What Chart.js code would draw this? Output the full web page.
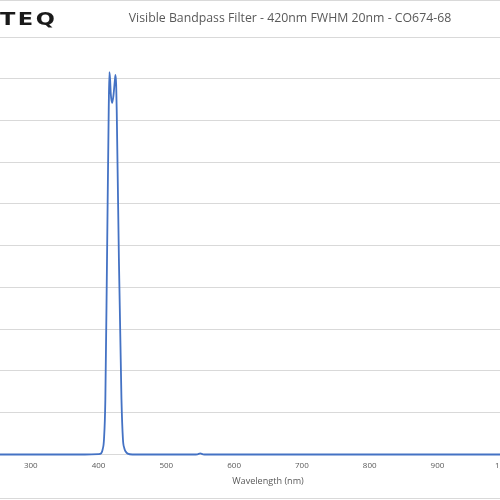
<!DOCTYPE html>
<html>
<head>
<meta charset="utf-8">
<script src="https://cdn.jsdelivr.net/npm/chart.js@4/dist/chart.umd.min.js"></script>
<style>
  html, body { margin: 0; padding: 0; background: #fff; overflow: hidden; }
  #wrap { position: absolute; left: -67px; top: 0; width: 714px; height: 500px; }
</style>
</head>
<body>
<div id="wrap"><canvas id="filter-chart" width="714" height="500"></canvas></div>
<script>
const chartTitle = "Visible Bandpass Filter - 420nm FWHM 20nm - CO674-68";
const xTitle = "Wavelength (nm)";
const xTicks = [200, 300, 400, 500, 600, 700, 800, 900, 1000, 1100];

const wavelength = [200, 250, 300, 350, 380, 400, 404, 406, 408, 410, 412.5, 415, 416, 417, 418, 420, 422, 424, 425, 426, 426.8, 430, 433.8, 436, 438, 440, 443, 450, 500, 540, 546, 550, 554, 560, 600, 650, 700, 750, 800, 850, 900, 950, 1000, 1050, 1100];
const transmission = [0, 0, 0, 0, 0, 0.1, 0.3, 1.2, 3.6, 13, 47, 82.5, 91.6, 90, 86.5, 84.2, 86, 89.5, 90.9, 88.5, 82.5, 47, 13.2, 3.6, 1.5, 0.7, 0.2, 0, 0, 0, 0.05, 0.25, 0.05, 0, 0, 0, 0, 0, 0, 0, 0, 0, 0, 0, 0];

// frame lines, title and logo text (the picture is a crop of a wider chart)
const extras = {
  id: 'extras',
  afterDraw(chart) {
    const ctx = chart.ctx;
    ctx.save();
    ctx.strokeStyle = '#d9d9d9';
    ctx.lineWidth = 1;
    ctx.beginPath();
    ctx.moveTo(0, 0.5); ctx.lineTo(chart.width, 0.5);
    ctx.moveTo(0, 498.5); ctx.lineTo(chart.width, 498.5);
    ctx.stroke();

    ctx.fillStyle = '#595959';
    ctx.font = '12.3px "Open Sans"';
    ctx.textAlign = 'center';
    ctx.textBaseline = 'middle';
    ctx.fillText(chartTitle, chart.width / 2, 18);

    ctx.fillStyle = '#1a1a1a';
    ctx.font = 'bold 18px "DejaVu Sans"';
    ctx.textAlign = 'left';
    ctx.textBaseline = 'alphabetic';
    ctx.letterSpacing = '2px';
    ctx.translate(67, 25);
    ctx.scale(1.25, 1);
    ctx.fillText('TEQ', 0, 0);
    ctx.restore();
  }
};

const points = wavelength.map((w, i) => ({ x: w, y: transmission[i] }));

new Chart(document.getElementById('filter-chart'), {
  type: 'line',
  data: {
    datasets: [{
      data: points,
      borderColor: '#4472C4',
      borderWidth: 1.8,
      pointRadius: 0,
      cubicInterpolationMode: 'monotone',
      clip: false
    }]
  },
  options: {
    responsive: false,
    animation: false,
    layout: { padding: { left: 30, right: 74, top: 37, bottom: 9 } },
    plugins: {
      legend: { display: false },
      tooltip: { enabled: false },
      title: { display: false }
    },
    scales: {
      x: {
        type: 'linear',
        min: 200,
        max: 1100,
        afterBuildTicks: s => { s.ticks = xTicks.map(v => ({ value: v })); },
        grid: { display: false, drawTicks: false },
        border: { color: '#d9d9d9' },
        ticks: { color: '#595959', font: { family: 'Open Sans', size: 8 }, padding: 6, maxRotation: 0 },
        title: {
          display: true,
          text: xTitle,
          color: '#595959',
          font: { family: 'Open Sans', size: 9.1 },
          padding: { top: 0, bottom: 4 }
        }
      },
      y: {
        min: 0,
        max: 100,
        ticks: { display: false, stepSize: 10 },
        grid: { color: '#d9d9d9', drawTicks: false },
        border: { display: false }
      }
    }
  },
  plugins: [extras]
});
</script>
</body>
</html>
